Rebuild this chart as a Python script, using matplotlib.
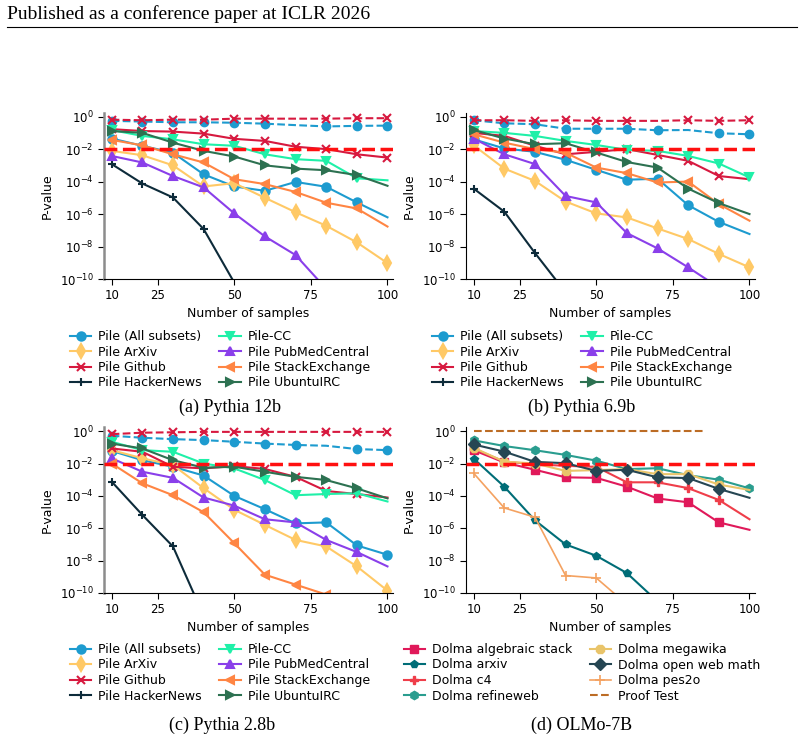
import matplotlib
matplotlib.use("Agg")
import matplotlib.pyplot as plt
from matplotlib.lines import Line2D

# samples on the x axis
n_samples = [10, 20, 30, 40, 50, 60, 70, 80, 90, 100]

# (a) Pythia 12b
a_all_dash = [0.55, 0.5, 0.45, 0.45, 0.42, 0.37, 0.3, 0.25, 0.27, 0.28]
a_github_dash = [0.65, 0.6, 0.65, 0.65, 0.75, 0.75, 0.75, 0.75, 0.8, 0.8]
a_all = [0.045, 0.016, 6e-3, 2.8e-4, 5e-5, 2.7e-5, 9.5e-5, 4.8e-5, 5.2e-6, 6.3e-7]
a_arxiv = [7.8e-3, 4.2e-3, 1e-3, 5e-5, 8e-5, 1e-5, 1.3e-6, 1.9e-7, 1.8e-8, 9.5e-10]
a_github = [0.17, 0.13, 0.12, 0.09, 0.043, 0.032, 0.014, 0.01, 4.8e-3, 3e-3]
a_hn = [1.2e-3, 7.6e-5, 1.05e-5, 1.2e-7, 6e-11, 1e-13, 1e-15, 1e-16, 1e-17, 1e-18]
a_cc = [0.15, 0.065, 0.04, 0.02, 0.016, 4.8e-3, 2.4e-3, 1.9e-3, 1.6e-4, 1.2e-4]
a_pubmed = [3.8e-3, 1.5e-3, 2.2e-4, 4.4e-5, 1.1e-6, 4.2e-8, 3e-9, 2.5e-11, 1e-12, 1e-13]
a_stack = [0.037, 0.017, 4.8e-3, 1.5e-3, 1.4e-4, 7e-5, 2.3e-5, 5e-6, 2.2e-6, 1.7e-7]
a_ubuntu = [0.13, 0.1, 0.025, 7.8e-3, 3.5e-3, 1e-3, 6.3e-4, 5e-4, 2.5e-4, 5.5e-5]

# (b) Pythia 6.9b
b_all_dash = [0.6, 0.39, 0.34, 0.18, 0.18, 0.18, 0.145, 0.15, 0.095, 0.082]
b_github_dash = [0.6, 0.6, 0.55, 0.6, 0.55, 0.55, 0.55, 0.6, 0.55, 0.6]
b_all = [0.04, 0.011, 6.8e-3, 2.2e-3, 5.3e-4, 1.3e-4, 1.5e-4, 3.5e-6, 3.3e-7, 5.9e-8]
b_arxiv = [0.017, 6.3e-4, 1.1e-4, 5.9e-6, 1.1e-6, 6.2e-7, 1.3e-7, 2.9e-8, 3.5e-9, 5.2e-10]
b_github = [0.1, 0.065, 0.016, 4.8e-3, 6.8e-3, 0.01, 4.4e-3, 1.9e-3, 2.2e-4, 1.4e-4]
b_hn = [3.7e-5, 1.4e-6, 4e-9, 1.5e-11, 1e-13, 1e-15, 1e-16, 1e-17, 1e-18, 1e-19]
b_cc = [0.13, 0.1, 0.065, 0.032, 0.018, 9e-3, 7.8e-3, 3.8e-3, 1.3e-3, 1.8e-4]
b_pubmed = [0.045, 4.8e-3, 1.2e-3, 1.3e-5, 5.2e-6, 6.7e-8, 7.7e-9, 5.2e-10, 3e-11, 1e-12]
b_stack = [0.082, 0.025, 0.01, 6e-3, 7.3e-4, 3.3e-4, 8.8e-5, 1e-4, 4.1e-6, 3.9e-7]
b_ubuntu = [0.15, 0.045, 0.02, 0.023, 6.2e-3, 1.6e-3, 7.3e-4, 3.7e-5, 4.7e-6, 1e-6]

# (c) Pythia 2.8b
c_all_dash = [0.52, 0.39, 0.32, 0.28, 0.22, 0.17, 0.14, 0.125, 0.078, 0.067]
c_github_dash = [0.65, 0.8, 0.85, 0.9, 0.9, 0.9, 0.9, 0.9, 0.9, 0.9]
c_all = [0.06, 0.016, 6.3e-3, 1.8e-3, 1e-4, 1.5e-5, 2e-6, 2.3e-6, 8.7e-8, 2.3e-8]
c_arxiv = [0.067, 0.021, 8e-3, 3e-4, 1.4e-5, 1.6e-6, 1.9e-7, 7.5e-8, 4.4e-9, 1.4e-10]
c_github = [0.085, 0.053, 6.3e-3, 5e-3, 6.9e-3, 4.6e-3, 1.5e-3, 2e-4, 1.3e-4, 7.9e-5]
c_hn = [7.6e-4, 6.7e-6, 7.5e-8, 4e-12, 1e-14, 1e-15, 1e-16, 1e-17, 1e-18, 1e-19]
c_cc = [0.22, 0.067, 0.053, 0.01, 5e-3, 9.5e-4, 1.1e-4, 1.3e-4, 1.45e-4, 4.5e-5]
c_pubmed = [0.021, 3.1e-3, 1.3e-3, 7.9e-5, 2.5e-5, 3.6e-6, 2.3e-6, 1.9e-7, 3.4e-8, 4.4e-9]
c_stack = [0.01, 6e-4, 1.1e-4, 9.8e-6, 1.2e-7, 1.35e-9, 3.3e-10, 8e-11, 2e-11, 5e-12]
c_ubuntu = [0.17, 0.085, 0.016, 5.5e-3, 6.3e-3, 3.1e-3, 1.5e-3, 9.5e-4, 2.9e-4, 7e-5]

# (d) OLMo-7B
d_algebraic = [0.066, 0.0116, 4.1e-3, 1.4e-3, 1.3e-3, 3.7e-4, 6.9e-5, 4e-5, 2.3e-6, 8e-7]
d_arxiv = [0.02, 3.7e-4, 3.1e-6, 1e-7, 2e-8, 1.7e-9, 3e-11, 1e-12, 1e-13, 1e-14]
d_c4 = [0.083, 0.013, 9e-3, 7.2e-3, 6.2e-3, 6.9e-4, 6.9e-4, 3e-4, 5.6e-5, 3.6e-6]
d_refineweb = [0.27, 0.12, 0.066, 0.034, 0.015, 4.5e-3, 5.1e-3, 1.9e-3, 1e-3, 2.9e-4]
d_megawika = [0.094, 0.013, 0.01, 3.5e-3, 3.9e-3, 4.5e-3, 2.2e-3, 2.2e-3, 5e-4, 2.3e-4]
d_owm = [0.15, 0.054, 0.0126, 0.0105, 3.5e-3, 4.1e-3, 1.4e-3, 1.26e-3, 2.7e-4, 7.6e-5]
d_pes2o = [2.5e-3, 1.8e-5, 4.8e-6, 1.2e-9, 8.5e-10, 2e-11, 1e-12, 1e-13, 1e-14, 1e-15]
proof_x = [10, 85]
proof_y = [1.0, 1.0]

threshold = 0.01

pile_labels = ["Pile (All subsets)", "Pile ArXiv", "Pile Github", "Pile HackerNews",
               "Pile-CC", "Pile PubMedCentral", "Pile StackExchange", "Pile UbuntuIRC"]
pile_colors = ["#1d9bcf", "#ffc966", "#d7193f", "#0d2b3a",
               "#1ff0a8", "#8a3fea", "#ff8543", "#2d7151"]
pile_markers = ["o", "d", "x", "+", "v", "^", "<", ">"]

dolma_labels = ["Dolma algebraic stack", "Dolma arxiv", "Dolma c4", "Dolma refineweb",
                "Dolma megawika", "Dolma open web math", "Dolma pes2o"]
dolma_colors = ["#e0195a", "#006d77", "#ef3e4a", "#2a9d8f",
                "#e9c46a", "#264653", "#f4a261"]
dolma_markers = ["s", "p", "P", "h", "8", "D", "+"]

plt.rcParams["font.family"] = "DejaVu Sans"
fig = plt.figure(figsize=(8.04, 7.42), dpi=100)
W, H = 804.0, 742.0
legend_kw = dict(ncol=2, frameon=False, fontsize=9, handlelength=1.7, handletextpad=0.55,
                 columnspacing=1.4, labelspacing=0.2, borderpad=0, borderaxespad=0)


def make_ax(left, top, bottom, gray_spine):
    ax = fig.add_axes([left / W, 1 - bottom / H, 289 / W, (bottom - top) / H])
    ax.set_yscale("log")
    ax.set_ylim(1e-10, 1.8)
    ax.set_xlim(7.5, 101.8)
    ax.set_yticks([1e0, 1e-2, 1e-4, 1e-6, 1e-8, 1e-10])
    ax.yaxis.set_minor_locator(matplotlib.ticker.NullLocator())
    ax.set_xticks([10, 25, 50, 75, 100])
    ax.tick_params(labelsize=8.5, length=4, width=0.8)
    ax.spines["top"].set_visible(False)
    ax.spines["right"].set_visible(False)
    if gray_spine:
        ax.spines["left"].set_color("0.55")
        ax.spines["left"].set_linewidth(1.8)
    ax.set_xlabel("Number of samples", fontsize=9, labelpad=3)
    ax.set_ylabel("P-value", fontsize=9)
    ax.axhline(threshold, color="#ff1010", ls="--", lw=2.5, zorder=4)
    return ax


def pile_panel(ax, dash_all, dash_github, series, nomark, legend_xy):
    ax.plot(n_samples, dash_all, ls="--", color=pile_colors[0], marker="o",
            ms=6, lw=1.5, markevery=[i for i in range(10) if i not in nomark.get("dash_all", [])])
    ax.plot(n_samples, dash_github, ls="--", color=pile_colors[2], marker="x",
            ms=6, mew=1.5, lw=1.5,
            markevery=[i for i in range(10) if i not in nomark.get("dash_github", [])])
    for k, ys in enumerate(series):
        skip = nomark.get(k, [])
        ax.plot(n_samples, ys, color=pile_colors[k], marker=pile_markers[k], ms=7 if k == 1 else 6,
                mew=1.5, lw=1.5, label=pile_labels[k],
                markevery=[i for i in range(10) if i not in skip])
    handles, labels = ax.get_legend_handles_labels()
    fig.legend(handles, labels, loc="upper center", bbox_to_anchor=legend_xy, **legend_kw)


# header
fig.text(7 / W, 1 - 14 / H, "Published as a conference paper at ICLR 2026",
         family="Liberation Serif", fontsize=14, va="center", ha="left")
fig.add_artist(Line2D([7 / W, 797 / W], [1 - 27 / H, 1 - 27 / H], color="black", lw=0.8))

ax_a = make_ax(104, 112.5, 279, True)
pile_panel(ax_a, a_all_dash, a_github_dash,
           [a_all, a_arxiv, a_github, a_hn, a_cc, a_pubmed, a_stack, a_ubuntu],
           {"dash_all": [6], "dash_github": [6], 0: [9], 4: [9], 6: [9], 7: [9]},
           (220 / W, 1 - 330 / H))

ax_b = make_ax(466, 112.5, 279, False)
pile_panel(ax_b, b_all_dash, b_github_dash,
           [b_all, b_arxiv, b_github, b_hn, b_cc, b_pubmed, b_stack, b_ubuntu],
           {"dash_all": [7], "dash_github": [6], 0: [9], 2: [9], 6: [9], 7: [9]},
           (582 / W, 1 - 330 / H))

ax_c = make_ax(104, 427, 593, True)
pile_panel(ax_c, c_all_dash, c_github_dash,
           [c_all, c_arxiv, c_github, c_hn, c_cc, c_pubmed, c_stack, c_ubuntu],
           {"dash_all": [7], "dash_github": [6], 2: [9], 4: [9], 5: [9], 7: [9]},
           (220 / W, 1 - 643 / H))

ax_d = make_ax(466, 427, 593, False)
dolma_series = [d_algebraic, d_arxiv, d_c4, d_refineweb, d_megawika, d_owm, d_pes2o]
dolma_nomark = {0: [9], 2: [9], 4: [9], 5: [9]}
for k, ys in enumerate(dolma_series):
    skip = dolma_nomark.get(k, [])
    thin = dolma_markers[k] == "+"
    ax_d.plot(n_samples, ys, color=dolma_colors[k], marker=dolma_markers[k],
              ms=7 if thin else 6, mew=1.2 if thin else 1.0, lw=1.2 if thin else 1.5,
              label=dolma_labels[k], markevery=[i for i in range(10) if i not in skip])
ax_d.plot(proof_x, proof_y, color="#bc6c25", ls="--", lw=1.5, label="Proof Test")
handles, labels = ax_d.get_legend_handles_labels()
fig.legend(handles, labels, loc="upper center", bbox_to_anchor=(582 / W, 1 - 643 / H), **legend_kw)

# sub captions
for cx, cy, txt in [(230, 407, "(a) Pythia 12b"), (582, 407, "(b) Pythia 6.9b"),
                    (222, 725, "(c) Pythia 2.8b"), (582, 725, "(d) OLMo-7B")]:
    fig.text(cx / W, 1 - cy / H, txt, family="Liberation Serif", fontsize=13,
             ha="center", va="center")

fig.savefig("out.png", dpi=100)
